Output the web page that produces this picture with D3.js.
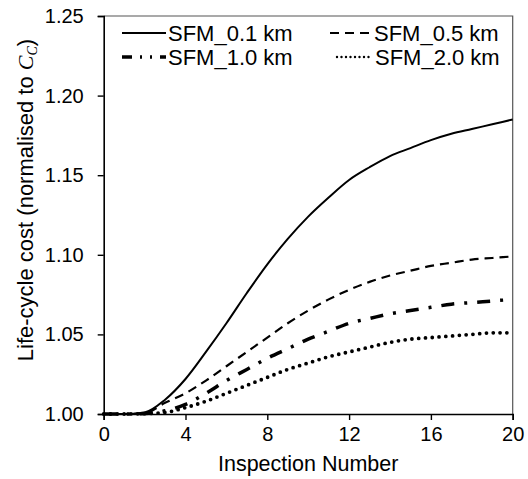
<!DOCTYPE html>
<html>
<head>
<meta charset="utf-8">
<script src="https://cdn.jsdelivr.net/npm/d3@7"></script>
<style>
  body { margin: 0; background: #fff; }
  text { font-family: "Liberation Sans", Arial, sans-serif; fill: #000; }
</style>
</head>
<body>
<svg id="chart" width="528" height="479"></svg>
<script>
// inspection numbers 0..20
var inspections = d3.range(0, 21);
var xTicks = [0, 4, 8, 12, 16, 20];
var yTicks = [1.00, 1.05, 1.10, 1.15, 1.20, 1.25];

// life-cycle cost
var sfm01 = [1.000, 1.000, 1.001, 1.009, 1.022, 1.039, 1.057, 1.076, 1.094, 1.110, 1.124,
             1.136, 1.147, 1.155, 1.162, 1.167, 1.172, 1.176, 1.179, 1.182, 1.185];
var sfm05 = [1.000, 1.000, 1.0005, 1.007, 1.013, 1.021, 1.030, 1.039, 1.048, 1.057, 1.065,
             1.072, 1.078, 1.083, 1.087, 1.090, 1.093, 1.095, 1.097, 1.098, 1.099];
var sfm10 = [1.000, 1.000, 1.0003, 1.002, 1.006, 1.013, 1.021, 1.028, 1.035, 1.041, 1.047,
             1.052, 1.057, 1.060, 1.063, 1.065, 1.067, 1.069, 1.070, 1.071, 1.072];
var sfm20 = [1.000, 1.000, 1.0002, 1.001, 1.004, 1.008, 1.013, 1.018, 1.023, 1.028, 1.032,
             1.036, 1.039, 1.042, 1.045, 1.047, 1.048, 1.049, 1.050, 1.051, 1.051];

var seriesNames = ["SFM_0.1 km", "SFM_0.5 km", "SFM_1.0 km", "SFM_2.0 km"];
var seriesValues = [sfm01, sfm05, sfm10, sfm20];

// line styles for each series
var styles = [
  { width: 2, dash: null, cap: "butt" },
  { width: 2.2, dash: "9,6", cap: "butt" },
  { width: 3.5, dash: "13,10,3,10", cap: "butt" },
  { width: 3.8, dash: "0,6.8", cap: "round" }
];

var svg = d3.select("#chart");
var mLeft = 103.7, mRight = 512.7, mTop = 16, mBottom = 414;

var x = d3.scaleLinear().domain([0, 20]).range([mLeft, mRight]);
var y = d3.scaleLinear().domain([1.00, 1.25]).range([mBottom, mTop]);

// frame top / right
svg.append("path")
  .attr("d", "M" + mLeft + "," + mTop + "H" + mRight + "V" + mBottom)
  .attr("fill", "none").attr("stroke", "#555").attr("stroke-width", 1.2);

var line = d3.line()
  .x(function(d, i) { return x(inspections[i]); })
  .y(function(d) { return y(d); })
  .curve(d3.curveMonotoneX);

seriesValues.forEach(function(vals, k) {
  svg.append("path")
    .attr("d", line(vals))
    .attr("fill", "none")
    .attr("stroke", "#000")
    .attr("stroke-width", styles[k].width)
    .attr("stroke-dasharray", styles[k].dash)
    .attr("stroke-linecap", styles[k].cap);
});

// axes
var xAxis = svg.append("g").attr("transform", "translate(0," + mBottom + ")")
  .call(d3.axisBottom(x).tickValues(xTicks).tickSize(6).tickPadding(7).tickFormat(d3.format("d")));
var yAxis = svg.append("g").attr("transform", "translate(" + mLeft + ",0)")
  .call(d3.axisLeft(y).tickValues(yTicks).tickSize(6).tickPadding(14).tickFormat(d3.format(".2f")));

[xAxis, yAxis].forEach(function(g) {
  g.select(".domain").attr("stroke", "#000").attr("stroke-width", 1.6);
  g.selectAll(".tick line").attr("stroke", "#000").attr("stroke-width", 1.4);
  g.selectAll(".tick text").style("font-size", "20px").attr("fill", "#000")
    .style("font-family", "Liberation Sans, Arial, sans-serif");
});

// axis titles
svg.append("text")
  .attr("x", (mLeft + mRight) / 2).attr("y", 471)
  .attr("text-anchor", "middle")
  .style("font-size", "21.5px")
  .text("Inspection Number");

var yl = svg.append("text")
  .attr("transform", "translate(33,200) rotate(-90)")
  .attr("text-anchor", "middle")
  .style("font-size", "22px");
yl.append("tspan").text("Life-cycle cost (normalised to ");
yl.append("tspan").style("font-style", "italic").style("font-family", "Liberation Serif, Times New Roman, serif").text("C");
yl.append("tspan").style("font-style", "italic").style("font-size", "14px")
  .style("font-family", "Liberation Serif, Times New Roman, serif")
  .attr("dy", 4).text("C");
yl.append("tspan").attr("dy", -4).text(")");

// legend
var legendPos = [
  { x1: 122, x2: 166, tx: 168, ty: 33 },
  { x1: 330, x2: 372, tx: 374, ty: 33 },
  { x1: 122, x2: 166, tx: 168, ty: 57 },
  { x1: 337, x2: 372, tx: 375, ty: 57 }
];
seriesNames.forEach(function(name, k) {
  var p = legendPos[k];
  svg.append("line")
    .attr("x1", p.x1).attr("x2", p.x2).attr("y1", p.ty).attr("y2", p.ty)
    .attr("stroke", "#000")
    .attr("stroke-width", k === 3 ? 2.4 : styles[k].width)
    .attr("stroke-dasharray", k === 2 ? "10,8,2,8,2,8" : (k === 3 ? "0,4.5" : styles[k].dash))
    .attr("stroke-linecap", styles[k].cap);
  svg.append("text")
    .attr("x", p.tx).attr("y", p.ty + 8)
    .style("font-size", "22px")
    .text(name);
});
</script>
</body>
</html>
